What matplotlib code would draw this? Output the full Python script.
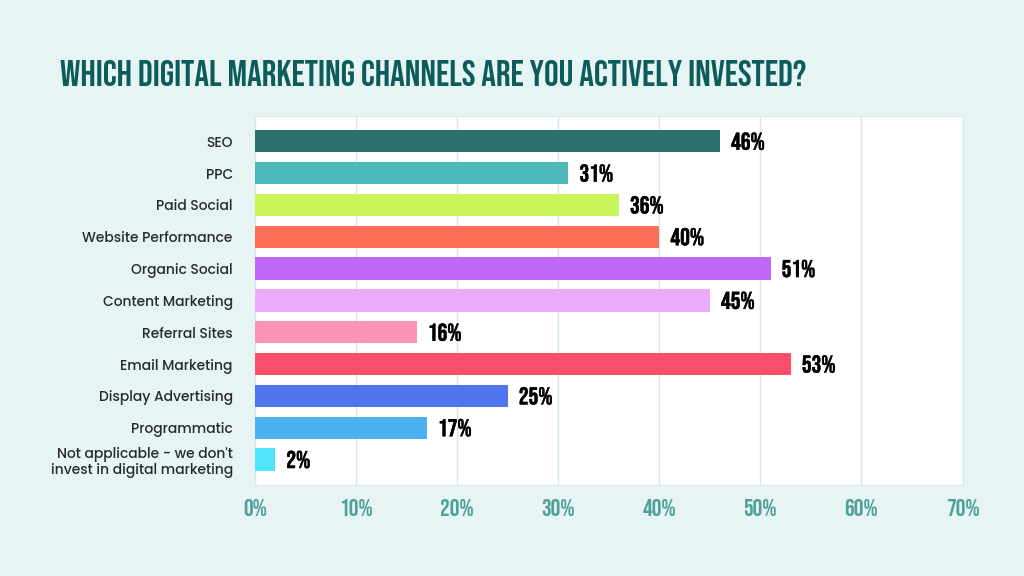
import matplotlib.pyplot as plt
import matplotlib.patheffects as pe
import numpy as np

categories = ["SEO", "PPC", "Paid Social", "Website Performance", "Organic Social",
              "Content Marketing", "Referral Sites", "Email Marketing",
              "Display Advertising", "Programmatic",
              "Not applicable - we don't\ninvest in digital marketing"]
values = [46, 31, 36, 40, 51, 45, 16, 53, 25, 17, 2]
colors = ["#2d716d", "#4db8b8", "#c8f55a", "#fd6f56", "#bf68f8", "#ecaafa",
          "#fd93b8", "#fc4f6b", "#4e74ee", "#4ab0f2", "#50e4f8"]
ticks = [0, 10, 20, 30, 40, 50, 60, 70]

bg = "#e7f4f4"
narrow = ["Bebas Neue", "DejaVu Sans"]
label_font = ["Poppins", "Montserrat Alternates", "DejaVu Sans"]

fig = plt.figure(figsize=(10.24, 5.76), dpi=100, facecolor=bg)
ax = fig.add_axes([0.249, 0.158, 0.691, 0.641])
ax.set_facecolor("white")

y = np.arange(len(categories))
ax.barh(y, values, height=0.7, color=colors, zorder=3)

for yi, v in zip(y, values):
    ax.text(v + 1.1, yi, f"{v}%", va="center", ha="left", fontsize=17.5,
            family=narrow, color="black", zorder=4,
            path_effects=[pe.withStroke(linewidth=0.3, foreground="black")])

ax.set_xlim(0, 70)
ax.set_ylim(10.8, -0.8)
ax.set_xticks(ticks)
ax.set_xticklabels([f"{t}%" for t in ticks], family=narrow,
                   fontsize=17.5, color="#4f9f9b")
ax.set_yticks(y)
ax.set_yticklabels(categories, fontsize=10, family=label_font, fontweight=500,
                   color="#2a2a2a", linespacing=1.1)
for lab in ax.get_yticklabels():
    lab.set_multialignment("right")
ax.tick_params(axis="both", length=0)
ax.tick_params(axis="y", pad=16)
ax.tick_params(axis="x", pad=10)
ax.grid(axis="x", color="#d3eaea", linewidth=1, zorder=0)
for s in ax.spines.values():
    s.set_color("#d3eaea")

fig.text(0.059, 0.874, "WHICH DIGITAL MARKETING CHANNELS ARE YOU ACTIVELY INVESTED?",
         family=narrow, fontsize=26.3, color="#0d5c5c",
         va="center", ha="left")

plt.savefig("out.png", dpi=100, facecolor=bg)
